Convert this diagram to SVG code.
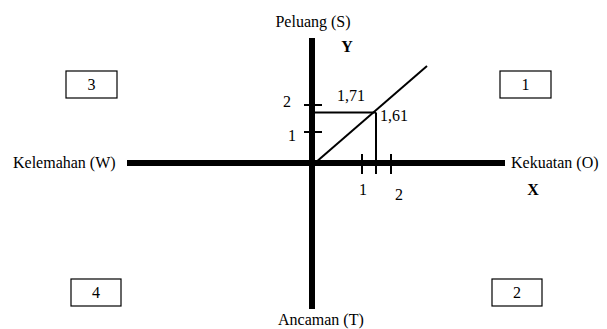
<svg xmlns="http://www.w3.org/2000/svg" width="607" height="329" viewBox="0 0 607 329">
<style>
text{font-family:"Liberation Serif","Times New Roman",serif;font-size:16px;fill:#000}
.b{font-weight:bold}
.box{fill:#fff;stroke:#000;stroke-width:1.2}
.thin{stroke:#000;stroke-width:2;fill:none}
.axis{stroke:#000;stroke-width:6}
</style>
<rect width="607" height="329" fill="#fff"/>
<g id="connectors">
<line class="axis" x1="127" y1="163" x2="505" y2="163"/>
<line class="axis" x1="312" y1="38" x2="312" y2="309"/>
<line class="thin" x1="315" y1="163" x2="427" y2="66"/>
<line class="thin" x1="315" y1="112.5" x2="376" y2="112.5"/>
<line class="thin" x1="376" y1="112.5" x2="376" y2="174"/>
<line class="thin" x1="304" y1="105" x2="322" y2="105"/>
<line class="thin" x1="304" y1="132" x2="322" y2="132"/>
<line class="thin" x1="362" y1="154" x2="362" y2="174"/>
<line class="thin" x1="391" y1="154" x2="391" y2="174"/>
</g>
<g id="labels">
<text x="313" y="27" text-anchor="middle">Peluang (S)</text>
<text class="b" x="347" y="52" text-anchor="middle">Y</text>
<text x="13" y="168">Kelemahan (W)</text>
<text x="511" y="168">Kekuatan (O)</text>
<text class="b" x="533" y="195" text-anchor="middle">X</text>
<text x="278" y="325">Ancaman (T)</text>
<text x="287" y="107" text-anchor="middle">2</text>
<text x="292" y="141" text-anchor="middle">1</text>
<text x="351" y="101" text-anchor="middle">1,71</text>
<text x="394" y="121" text-anchor="middle">1,61</text>
<text x="363" y="195" text-anchor="middle">1</text>
<text x="399" y="200" text-anchor="middle">2</text>
</g>
<g id="box1"><rect class="box" x="500" y="71" width="51" height="27"/><text x="525.5" y="90" text-anchor="middle">1</text></g>
<g id="box2"><rect class="box" x="492" y="279" width="50" height="27"/><text x="517" y="298" text-anchor="middle">2</text></g>
<g id="box3"><rect class="box" x="66" y="71" width="51" height="27"/><text x="91.5" y="90" text-anchor="middle">3</text></g>
<g id="box4"><rect class="box" x="71" y="279" width="50" height="27"/><text x="96" y="298" text-anchor="middle">4</text></g>
</svg>
